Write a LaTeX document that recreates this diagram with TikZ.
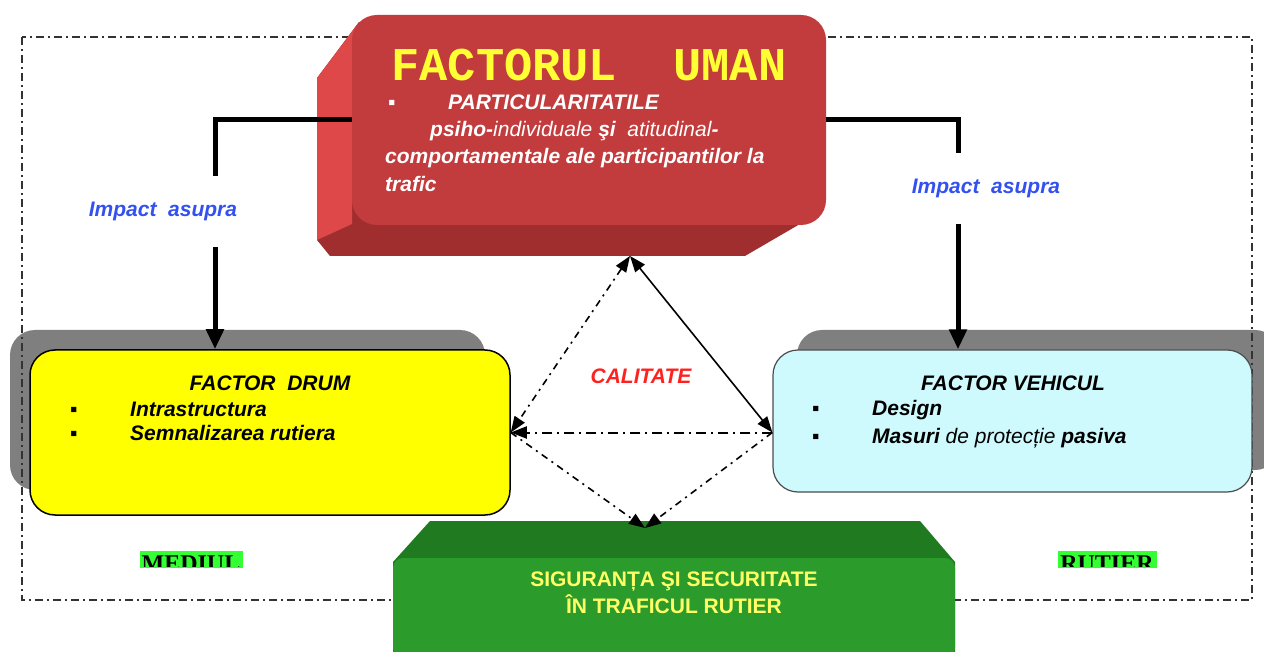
\documentclass[tikz,border=0pt]{standalone}
\usepackage{fontspec}
\setmainfont{Liberation Sans}
\newfontfamily\titlufont{Liberation Mono}
\newfontfamily\serifont{Liberation Serif}
\usetikzlibrary{arrows.meta}
\definecolor{umanrosu}{HTML}{C23B3D}
\definecolor{umanlat}{HTML}{DF4848}
\definecolor{umanjoscul}{HTML}{A02E2E}
\definecolor{galbentitlu}{HTML}{FFFF33}
\definecolor{drumgalben}{HTML}{FFFF00}
\definecolor{vehiculcyan}{HTML}{CEFAFD}
\definecolor{umbragri}{HTML}{7F7F7F}
\definecolor{verdefata}{HTML}{2B9B2B}
\definecolor{verdesus}{HTML}{1F7A20}
\definecolor{galbenverde}{HTML}{FFFF66}
\definecolor{verdeaprins}{HTML}{33FF33}
\definecolor{albastru}{HTML}{3350F0}
\definecolor{rosutext}{HTML}{FF2020}
\newcommand{\punct}[1]{\makebox[60pt][l]{\normalfont\bfseries ▪}#1}

\begin{document}
\begin{tikzpicture}[x=1pt, y=-1pt, >={Triangle[length=16pt, width=12pt]},
  umbra/.style={fill=umbragri, rounded corners=25pt},
  cadru/.style={draw=black!80, line width=2pt, dash pattern=on 8pt off 4pt on 2pt off 4pt},
  mic/.style={font=\fontsize{21}{24}\selectfont\bfseries\itshape, inner sep=0pt},
  impact/.style={line width=5pt, -{Triangle[length=20pt, width=17pt]}},
  eticheta/.style={mic, text=albastru, fill=white, inner xsep=2pt, inner ysep=26pt},
  calitate/.style={line width=1.6pt, dash pattern=on 7pt off 5pt on 2pt off 5pt},
  marcaj/.style={inner sep=0pt, font=\serifont\fontsize{24}{24}\selectfont\bfseries, anchor=north}]
  \useasboundingbox (0, 0) rectangle (1264, 652);

  \fill [umbra] (10, 330) rectangle (485, 490);
  \fill [umbra] (797, 330) rectangle (1280, 470);
  \draw [cadru] (22, 37) rectangle (1252, 600);

  \fill [umanjoscul] (359, 22) -- (317, 78) -- (317, 240) -- (330, 256) -- (745, 256) -- (824, 210) -- (700, 120) -- cycle;
  \fill [umanlat] (359, 22) -- (317, 78) -- (317, 240) -- (352, 224) -- (352, 40) -- cycle;
  \node [fill=umanrosu, rounded corners=25pt, minimum width=474pt, minimum height=210pt] (uman) at (589, 120) {};
  \node [text=galbentitlu, font=\titlufont\fontsize{47}{47}\selectfont\bfseries] (umanT) at (589, 65) {FACTORUL\ \ UMAN};
  \node [mic, text=white, anchor=base west] (uman1) at (388, 110) {\punct{PARTICULARITATILE}};
  \node [mic, text=white, anchor=base west] (uman2) at (430, 137) {psiho-{\mdseries individuale} şi\ \ {\mdseries atitudinal}-};
  \node [mic, text=white, anchor=base west] (uman3) at (385, 164) {comportamentale ale participantilor la};
  \node [mic, text=white, anchor=base west] (uman4) at (385, 192) {trafic};
  \coordinate (umanjos) at (630, 256);

  \node [draw=black, line width=1.5pt, fill=drumgalben, rounded corners=25pt, minimum width=480pt, minimum height=165pt] (drum) at (270, 432.5) {};
  \node [mic] (drumT) at (270, 383) {FACTOR\ \ DRUM};
  \node [mic, anchor=base west] (drum1) at (70, 416) {\punct{Intrastructura}};
  \node [mic, anchor=base west] (drum2) at (70, 440) {\punct{Semnalizarea rutiera}};

  \node [draw=black!70, line width=1.2pt, fill=vehiculcyan, rounded corners=25pt, minimum width=479pt, minimum height=142pt] (vehicul) at (1012.5, 421) {};
  \node [mic] (vehiculT) at (1013, 383) {FACTOR VEHICUL};
  \node [mic, anchor=base west] (vehicul1) at (812, 415) {\punct{Design}};
  \node [mic, anchor=base west] (vehicul2) at (812, 443) {\punct{Masuri {\mdseries de protecție} pasiva}};

  \fill [verdesus] (430, 521) -- (920, 521) -- (955, 562) -- (955, 660) -- (393, 660) -- (393, 562) -- cycle;
  \node [fill=verdefata, rounded corners=10pt, minimum width=562pt, minimum height=100pt] (siguranta) at (674, 608) {};
  \node [text=galbenverde, align=center, font=\fontsize{21}{27}\selectfont\bfseries] (sigurantaT) at (674, 593) {SIGURANȚA ŞI SECURITATE\\ÎN TRAFICUL RUTIER};
  \coordinate (sigsus) at (645, 528);

  \fill [verdeaprins] (140, 551) rectangle (243, 568);
  \fill [verdeaprins] (1058, 551) rectangle (1157, 568);
  \begin{scope}
    \clip (0, 540) rectangle (1264, 566);
    \node [marcaj] (mediul) at (191, 556) {MEDIUL};
    \node [marcaj] (rutier) at (1107, 556) {RUTIER};
  \end{scope}

  \draw [impact] (uman.west) -| node [eticheta, pos=.7, xshift=-52pt] (impactS) {Impact\ \ asupra} ([xshift=-55pt]drum.north);
  \draw [impact] (uman.east) -| node [eticheta, pos=.65, xshift=28pt] (impactD) {Impact\ \ asupra} ([xshift=-54.5pt]vehicul.north);

  \draw [calitate, <->] (umanjos) -- (drum.east);
  \draw [line width=1.6pt, <->] (umanjos) -- (vehicul.west |- drum.east);
  \draw [line width=2pt, dash pattern=on 10pt off 5pt on 2pt off 5pt, ->] (vehicul.west |- drum.east) -- (drum.east);
  \draw [calitate, ->] (drum.east) -- (sigsus);
  \draw [calitate, ->] (vehicul.west |- drum.east) -- (sigsus);
  \node [mic, text=rosutext] (calit) at (641, 376) {CALITATE};
\end{tikzpicture}
\end{document}
